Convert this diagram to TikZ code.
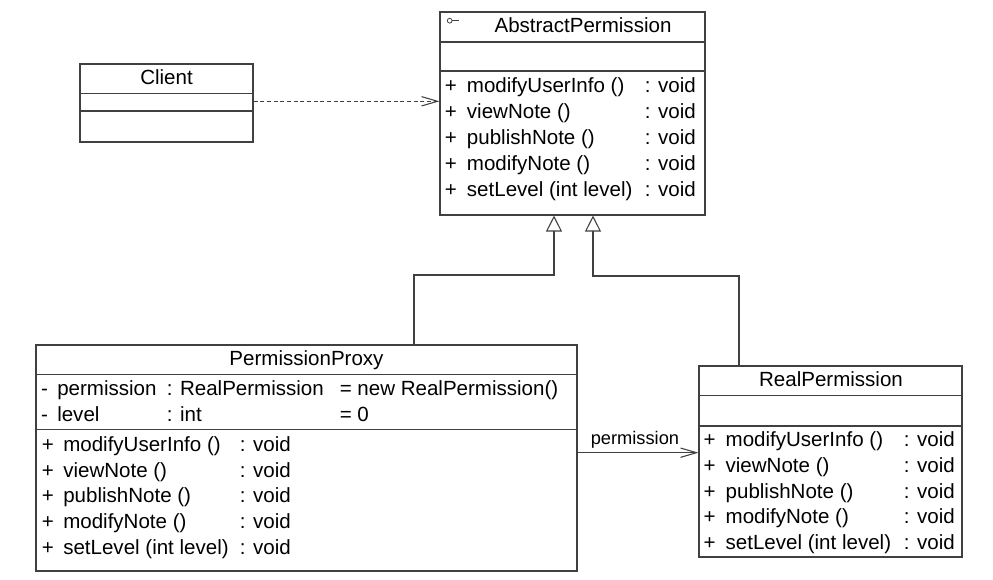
\documentclass[tikz,border=0pt]{standalone}
\usepackage{fontspec}
\setmainfont{Liberation Sans}
\usetikzlibrary{arrows.meta,fit}
\begin{document}
\begin{tikzpicture}[x=0.75pt,y=-0.75pt,
  box/.style={draw=black!75, line width=0.8pt, inner sep=0pt},
  sep/.style={draw=black!75, line width=0.8pt},
  txt/.style={anchor=base west, inner sep=0pt, font=\fontsize{15.4pt}{18pt}\selectfont},
  ttl/.style={anchor=base, inner sep=0pt, font=\fontsize{15.4pt}{18pt}\selectfont},
  lbl/.style={anchor=base west, inner sep=0pt, font=\fontsize{13.7pt}{16pt}\selectfont},
  dep/.style={draw=black!75, line width=0.8pt, dash pattern=on 3pt off 2pt, -{Straight Barb[length=12pt,width=7pt]}},
  assoc/.style={draw=black!75, line width=0.8pt, -{Straight Barb[length=12pt,width=7pt]}},
  inh/.style={draw=black!75, line width=0.8pt, -{Triangle[open,length=12pt,width=12pt,fill=white]}}
]
\useasboundingbox (0,0) rectangle (993,580);

% ---------- AbstractPermission ----------
\coordinate (absA) at (440,12);
\coordinate (absB) at (705,215);
\node[box, fit=(absA)(absB)] (abs) {};
\draw[sep] (440,42) -- (705,42);
\draw[sep] (440,71) -- (705,71);
\draw[black!75, line width=0.6pt] (449.7,20.7) circle[radius=2.4];
\draw[black!75, line width=0.6pt] (452.1,20.7) -- (458.5,20.7);
\node[ttl] (absT) at (583,33) {AbstractPermission};
\foreach \n/\m [count=\i from 0] in {modifyUserInfo ()/a, viewNote ()/b, publishNote ()/c, modifyNote ()/d, setLevel (int level)/e}{
  \node[txt] (absP\m) at (444.5,{92.8+26*\i}) {+};
  \node[txt] (absN\m) at (466.7,{92.8+26*\i}) {\n};
  \node[txt] (absV\m) at (644.5,{92.8+26*\i}) {: void};
}

% ---------- Client ----------
\coordinate (cliA) at (80,64);
\coordinate (cliB) at (253,142);
\node[box, fit=(cliA)(cliB)] (client) {};
\draw[sep] (80,93.7) -- (253,93.7);
\draw[sep] (80,111) -- (253,111);
\node[ttl] (cliT) at (166.5,85) {Client};

% ---------- PermissionProxy ----------
\coordinate (prxA) at (36,345);
\coordinate (prxB) at (577,571);
\node[box, fit=(prxA)(prxB)] (proxy) {};
\draw[sep] (36,374.3) -- (577,374.3);
\draw[sep] (36,429.5) -- (577,429.5);
\node[ttl] (prxT) at (306.5,366) {PermissionProxy};
\node[txt] (prxA1) at (40.8,395.5) {-};
\node[txt] (prxA2) at (57,395.5) {permission};
\node[txt] (prxA3) at (166.5,395.5) {: RealPermission};
\node[txt] (prxA4) at (339.5,395.5) {= new RealPermission()};
\node[txt] (prxB1) at (40.8,421.3) {-};
\node[txt] (prxB2) at (57,421.3) {level};
\node[txt] (prxB3) at (166.5,421.3) {: int};
\node[txt] (prxB4) at (339.5,421.3) {= 0};
\foreach \n/\m [count=\i from 0] in {modifyUserInfo ()/a, viewNote ()/b, publishNote ()/c, modifyNote ()/d, setLevel (int level)/e}{
  \node[txt] (prxP\m) at (41.7,{451.8+25.6*\i}) {+};
  \node[txt] (prxN\m) at (63,{451.8+25.6*\i}) {\n};
  \node[txt] (prxV\m) at (239.5,{451.8+25.6*\i}) {: void};
}

% ---------- RealPermission ----------
\coordinate (relA) at (699,366);
\coordinate (relB) at (962,557);
\node[box, fit=(relA)(relB)] (real) {};
\draw[sep] (699,395.3) -- (962,395.3);
\draw[sep] (699,426) -- (962,426);
\node[ttl] (relT) at (831,387) {RealPermission};
\foreach \n/\m [count=\i from 0] in {modifyUserInfo ()/a, viewNote ()/b, publishNote ()/c, modifyNote ()/d, setLevel (int level)/e}{
  \node[txt] (relP\m) at (703.3,{447+25.6*\i}) {+};
  \node[txt] (relN\m) at (725.4,{447+25.6*\i}) {\n};
  \node[txt] (relV\m) at (903.5,{447+25.6*\i}) {: void};
}

% ---------- connectors ----------
\coordinate (depY) at (0,101.3);
\draw[dep] (client.east |- depY) -- (abs.west |- depY);

\coordinate (asY) at (0,452.7);
\draw[assoc] (proxy.east |- asY) -- (real.west |- asY);
\node[lbl] (asL) at (590.5,445) {permission};

\coordinate (g1) at (414,275);
\coordinate (g2) at (554,275);
\draw[inh] (proxy.north -| g1) -- (g1) -- (g2) -- (abs.south -| g2);

\coordinate (h1) at (739,276);
\coordinate (h2) at (593,276);
\draw[inh] (real.north -| h1) -- (h1) -- (h2) -- (abs.south -| h2);
\end{tikzpicture}
\end{document}
